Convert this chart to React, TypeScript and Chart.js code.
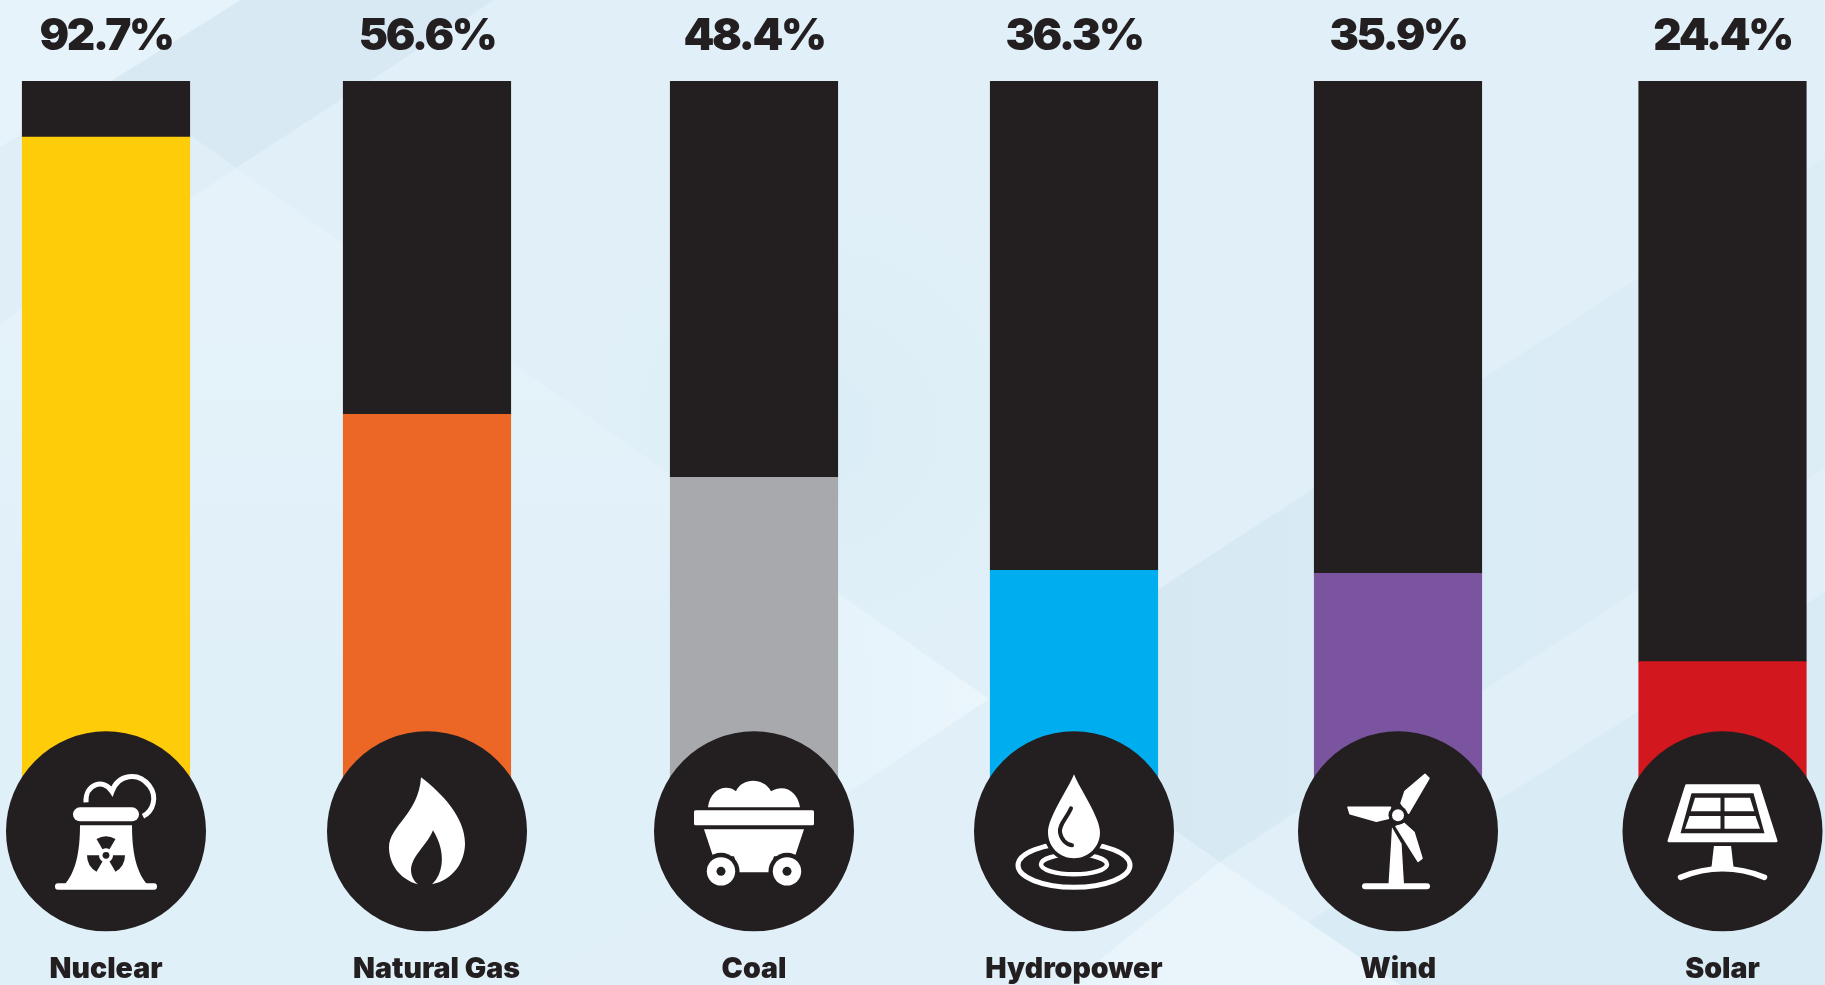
import React, { useEffect, useRef } from "react";
import { Chart, registerables } from "chart.js";

Chart.register(...registerables);

const categories = ["Nuclear", "Natural Gas", "Coal", "Hydropower", "Wind", "Solar"];
const percentages = [92.7, 56.6, 48.4, 36.3, 35.9, 24.4];
const fullScale = [100, 100, 100, 100, 100, 100];
const slotCentres = [106, 427, 754, 1074, 1398, 1722.5];
const barColours = ["#ffcc0a", "#ec6625", "#a7a9ac", "#00aeef", "#7b54a0", "#d2181e"];
const labelNudge = [0, 9.5, 0, 0, 0, 0];

const DARK = "#231f20";
const WHITE = "#ffffff";

const bgBase = "#e1f0f8";
const bgShapes: [string, number[][]][] = [
  ["#e6f3fa", [[0, 0], [241, 0], [113, 80], [0, 147]]],
  ["#d8e9f4", [[241, 0], [494, 0], [236, 168], [113, 80]]],
  ["#dfeef7", [[0, 147], [113, 80], [236, 168], [0, 323]]],
  ["#e1f0f8", [[1220, 862], [1825, 468], [1825, 592], [1308, 922]]],
  ["#d9ebf5", [[1308, 922], [1825, 592], [1825, 985], [1400, 985]]],
  ["#e9f5fb", [[1220, 862], [1400, 985], [1069, 985]]],
];
const wedge = [[236, 168], [989, 699], [530, 985], [0, 985], [0, 323]];
const tip = [[700, 497], [989, 699], [700, 890]];
const hollow = [[494, 0], [236, 168], [989, 699], [1100, 626], [1100, 0]];
const band = [[989, 699], [1825, 157], [1825, 468], [1220, 862]];

function poly(ctx: CanvasRenderingContext2D, pts: number[][]) {
  ctx.beginPath();
  pts.forEach((p, i) => (i ? ctx.lineTo(p[0], p[1]) : ctx.moveTo(p[0], p[1])));
  ctx.closePath();
}

function pill(ctx: CanvasRenderingContext2D, x0: number, y0: number, x1: number, y1: number, r: number) {
  ctx.beginPath();
  ctx.roundRect(x0, y0, x1 - x0, y1 - y0, r);
  ctx.fill();
}

const drawNuclear = (c: CanvasRenderingContext2D) => {
  pill(c, -51, 52, 51, 58.5, 3);
  c.beginPath();
  c.moveTo(-26, -6);
  c.lineTo(26, -6);
  c.bezierCurveTo(26, 20, 30, 42, 43, 55);
  c.lineTo(-43, 55);
  c.bezierCurveTo(-30, 42, -26, 20, -26, -6);
  c.fill();
  pill(c, -33, -24, 33, -10, 7);
  c.lineWidth = 5;
  c.lineCap = "butt";
  c.beginPath();
  c.moveTo(-20, -29);
  c.bezierCurveTo(-21, -48, -2, -53, 6, -40);
  c.bezierCurveTo(12, -57, 32, -60, 43, -46);
  c.bezierCurveTo(52, -34, 47, -20, 37, -15);
  c.stroke();
  c.fillStyle = DARK;
  const cy = 24;
  [-90, 30, 150].forEach((a) => {
    const r = (a * Math.PI) / 180;
    const h = (30 * Math.PI) / 180;
    c.beginPath();
    c.arc(0, cy, 19, r - h, r + h);
    c.arc(0, cy, 7, r + h, r - h, true);
    c.closePath();
    c.fill();
  });
  c.beginPath();
  c.arc(0, cy, 3.4, 0, Math.PI * 2);
  c.fill();
};

const drawFlame = (c: CanvasRenderingContext2D) => {
  c.beginPath();
  c.moveTo(-6, -54);
  c.bezierCurveTo(15, -38, 38, -14, 38, 12);
  c.bezierCurveTo(38, 32, 25, 49, 5, 53);
  c.bezierCurveTo(17, 42, 19, 20, 6, -1);
  c.bezierCurveTo(0, 14, -15, 24, -16, 38);
  c.bezierCurveTo(-16, 45, -13, 50, -9, 53);
  c.bezierCurveTo(-28, 48, -38, 32, -38, 16);
  c.bezierCurveTo(-38, -5, -8, -18, -6, -54);
  c.fill();
};

const drawCart = (c: CanvasRenderingContext2D) => {
  c.beginPath();
  c.moveTo(-46, -24);
  c.bezierCurveTo(-44, -42, -28, -48, -18, -40);
  c.bezierCurveTo(-12, -54, 10, -54, 17, -40);
  c.bezierCurveTo(30, -48, 44, -40, 46, -24);
  c.closePath();
  c.fill();
  pill(c, -60, -21, 60, -6, 1.5);
  poly(c, [[-50, -2], [50, -2], [41, 25], [20, 25], [15, 41], [-15, 41], [-20, 25], [-41, 25]]);
  c.fill();
  [-33, 33].forEach((x) => {
    c.fillStyle = DARK;
    c.beginPath();
    c.arc(x, 40, 18.5, 0, Math.PI * 2);
    c.fill();
    c.fillStyle = WHITE;
    c.beginPath();
    c.arc(x, 40, 14.2, 0, Math.PI * 2);
    c.fill();
    c.fillStyle = DARK;
    c.beginPath();
    c.arc(x, 40, 4.5, 0, Math.PI * 2);
    c.fill();
    c.fillStyle = WHITE;
  });
};

const drawDrop = (c: CanvasRenderingContext2D) => {
  c.lineWidth = 5;
  c.beginPath();
  c.ellipse(0, 34, 56, 22, 0, 0, Math.PI * 2);
  c.stroke();
  c.lineWidth = 4.5;
  c.beginPath();
  c.ellipse(0, 33, 33, 10, 0, 0, Math.PI * 2);
  c.stroke();
  const path = new Path2D("M0 -57 C6 -42 26 -14 26 1 C26 16 14 27 0 27 C-14 27 -26 16 -26 1 C-26 -14 -6 -42 0 -57 Z");
  c.strokeStyle = DARK;
  c.lineWidth = 8;
  c.stroke(path);
  c.fill(path);
  c.lineWidth = 4;
  c.lineCap = "round";
  c.beginPath();
  c.moveTo(-3, -23);
  c.bezierCurveTo(-8, -12, -15, -7, -14, 1);
  c.bezierCurveTo(-13, 8, -8, 13, -2, 14);
  c.stroke();
};

const drawTurbine = (c: CanvasRenderingContext2D) => {
  c.lineJoin = "round";
  c.lineWidth = 1.5;
  const shapes = [
    [[27, -57], [31, -53], [10.5, -18], [3, -28], [7, -40]],
    [[-50, -24], [-7.5, -24], [-9, -13], [-21.6, -10], [-48, -17.5]],
    [[20, 30], [24, 27], [16, 1], [6, -8], [-2, -5]],
  ];
  shapes.forEach((s) => {
    poly(c, s);
    c.fill();
    c.stroke();
  });
  c.fillStyle = DARK;
  c.beginPath();
  c.arc(0, -16, 9.5, 0, Math.PI * 2);
  c.fill();
  c.fillStyle = WHITE;
  c.beginPath();
  c.arc(0, -16, 6, 0, Math.PI * 2);
  c.fill();
  poly(c, [[-6, -4], [3.6, 12.3], [6, 53], [-9.5, 53]]);
  c.fill();
  pill(c, -36, 52, 32, 58, 3);
};

const drawPanel = (c: CanvasRenderingContext2D) => {
  c.lineJoin = "round";
  c.lineWidth = 3;
  poly(c, [[-36, -45.5], [36, -45.5], [53.5, 9.5], [-53.5, 9.5]]);
  c.fill();
  c.stroke();
  c.fillStyle = DARK;
  poly(c, [[-31, -38], [31, -38], [42, 2], [-42, 2]]);
  c.fill();
  c.fillStyle = WHITE;
  [1, -1].forEach((s) => {
    poly(c, [[s * 2, -33.7], [s * 27.5, -33.7], [s * 31.7, -20], [s * 2, -20]]);
    c.fill();
    poly(c, [[s * 2, -15.3], [s * 33, -15.3], [s * 37.5, -2.7], [s * 2, -2.7]]);
    c.fill();
  });
  poly(c, [[-8.6, 14.7], [8.6, 14.7], [11, 36], [-11, 36]]);
  c.fill();
  c.lineWidth = 5.5;
  c.lineCap = "round";
  c.beginPath();
  c.moveTo(-42, 46);
  c.quadraticCurveTo(0, 29, 42, 46);
  c.stroke();
};

const iconPainters = [drawNuclear, drawFlame, drawCart, drawDrop, drawTurbine, drawPanel];

const decorations = {
  id: "decorations",
  beforeDraw(chart: any) {
    const c: CanvasRenderingContext2D = chart.ctx;
    c.save();
    c.fillStyle = bgBase;
    c.fillRect(0, 0, chart.width, chart.height);

    const rad = c.createRadialGradient(820, 430, 30, 820, 430, 330);
    rad.addColorStop(0, "#dbedf6");
    rad.addColorStop(1, "rgba(225,240,248,0)");
    c.fillStyle = rad;
    poly(c, hollow);
    c.fill();

    const wg = c.createLinearGradient(0, 300, 0, 700);
    wg.addColorStop(0, "#e5f2fa");
    wg.addColorStop(1, "#e0f0f8");
    c.fillStyle = wg;
    poly(c, wedge);
    c.fill();

    const tg = c.createLinearGradient(700, 0, 989, 0);
    tg.addColorStop(0, "rgba(235,246,252,0)");
    tg.addColorStop(1, "rgba(235,246,252,1)");
    c.fillStyle = tg;
    poly(c, tip);
    c.fill();

    const bg = c.createLinearGradient(1150, 0, 1700, 0);
    bg.addColorStop(0, "#d6e9f3");
    bg.addColorStop(1, "#dcedf6");
    c.fillStyle = bg;
    poly(c, band);
    c.fill();

    bgShapes.forEach(([col, pts]) => {
      c.fillStyle = col;
      poly(c, pts);
      c.fill();
    });
    c.restore();
  },
  afterDatasetsDraw(chart: any) {
    const c: CanvasRenderingContext2D = chart.ctx;
    const meta = chart.getDatasetMeta(1);
    const disc = chart.scales.y.getPixelForValue(2.3);
    meta.data.forEach((bar: any, i: number) => {
      const x = bar.x;
      c.save();
      c.fillStyle = DARK;
      c.beginPath();
      c.arc(x, disc, 100, 0, Math.PI * 2);
      c.fill();
      c.translate(x, disc);
      c.fillStyle = WHITE;
      c.strokeStyle = WHITE;
      iconPainters[i](c);
      c.restore();

      c.save();
      c.fillStyle = DARK;
      c.textAlign = "center";
      c.textBaseline = "alphabetic";
      (c as any).letterSpacing = "-2.4px";
      c.font = '900 44px Inter, "Noto Sans", sans-serif';
      c.fillText(percentages[i].toFixed(1) + "%", x, 50);
      (c as any).letterSpacing = "0px";
      c.font = '900 28.5px Inter, "Noto Sans", sans-serif';
      c.fillText(categories[i], x + labelNudge[i], 978);
      c.restore();
    });
  },
};

export default function App() {
  const ref = useRef<HTMLCanvasElement>(null);
  useEffect(() => {
    const chart = new Chart(ref.current!, {
      type: "bar",
      data: {
        datasets: [
          {
            label: "Scale",
            data: slotCentres.map((x, i) => ({ x, y: [percentages[i], fullScale[i]] })),
            backgroundColor: DARK,
            order: 2,
          },
          {
            label: "Share",
            data: slotCentres.map((x, i) => ({ x, y: percentages[i] })),
            backgroundColor: barColours,
            order: 1,
          },
        ],
      } as any,
      options: {
        animation: false,
        responsive: false,
        layout: { padding: { top: 81, bottom: 136, left: 0, right: 0 } },
        datasets: { bar: { grouped: false, barThickness: 167.5, borderWidth: 0 } },
        plugins: { legend: { display: false }, tooltip: { enabled: false }, title: { display: false } },
        scales: {
          x: { type: "linear", min: 0, max: 1825, display: false, offset: false },
          y: { min: 0, max: 100, display: false },
        },
      } as any,
      plugins: [decorations],
    });
    return () => chart.destroy();
  }, []);
  return (
    <canvas
      ref={ref}
      width={1825}
      height={985}
      style={{ position: "absolute", left: 0, top: 0, display: "block", width: 1825, height: 985 }}
    />
  );
}
